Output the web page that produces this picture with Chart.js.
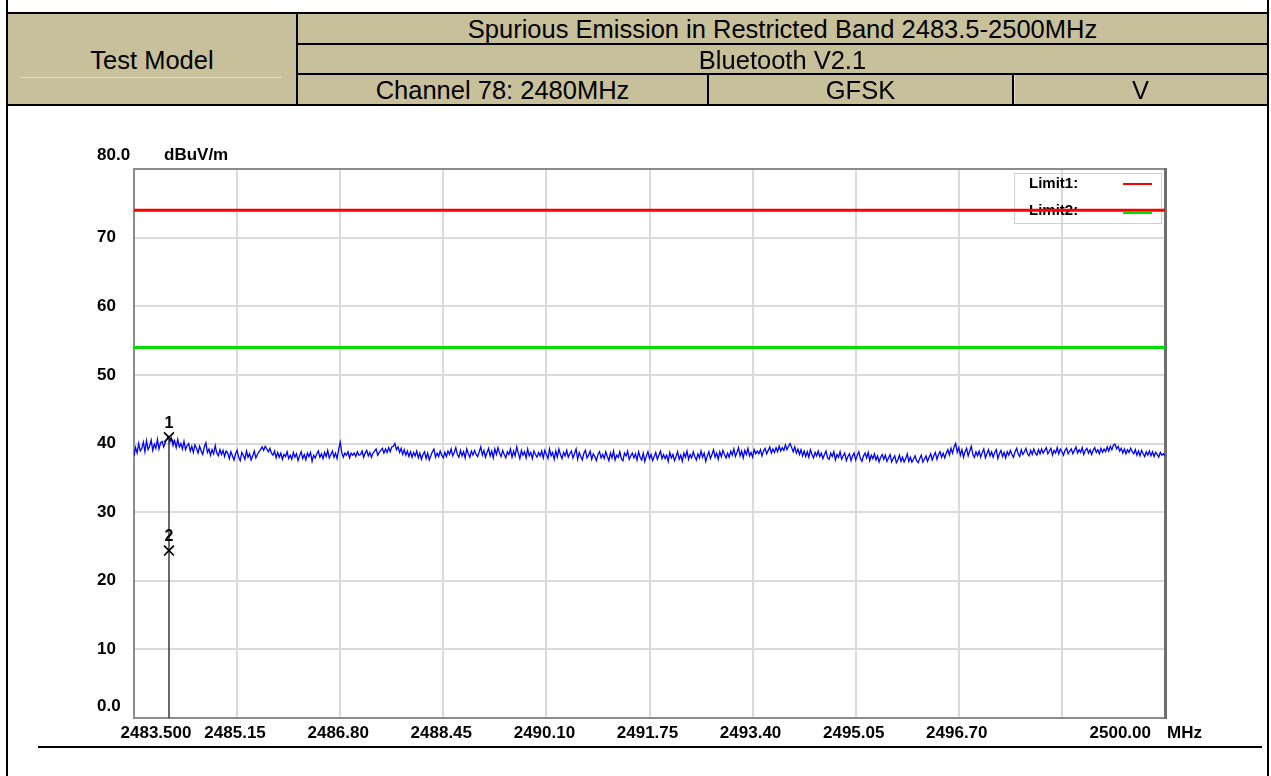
<!DOCTYPE html>
<html>
<head>
<meta charset="utf-8">
<title>Spurious Emission in Restricted Band 2483.5-2500MHz</title>
<script src="https://cdn.jsdelivr.net/npm/chart.js@4"></script>
<style>
  html, body { margin: 0; padding: 0; background: #fff; width: 1271px; height: 776px; overflow: hidden; }
  #plot { position: absolute; left: 0; top: 0; }
  .rule { position: absolute; background: #000; }
  .cell { position: absolute; background: #C8C09A; color: #000; font-family: "Liberation Sans", Arial, sans-serif;
          font-size: 25.5px; display: flex; align-items: center; justify-content: center; white-space: nowrap;
          padding-top: 2px; box-sizing: border-box; }
</style>
</head>
<body>
<canvas id="plot" width="1271" height="776"></canvas>

<!-- report header -->
<div class="cell" style="left:8px;top:14px;width:288px;height:90px;">Test Model</div>
<div class="cell" style="left:298px;top:14px;width:969px;height:29px;">Spurious Emission in Restricted Band 2483.5-2500MHz</div>
<div class="cell" style="left:298px;top:45px;width:969px;height:28px;">Bluetooth V2.1</div>
<div class="cell" style="left:298px;top:75px;width:409px;height:29px;">Channel 78: 2480MHz</div>
<div class="cell" style="left:709px;top:75px;width:303px;height:29px;">GFSK</div>
<div class="cell" style="left:1014px;top:75px;width:253px;height:29px;">V</div>
<div style="position:absolute;left:20px;top:77px;width:262px;height:1px;background:#e4ddc4;"></div>
<div style="position:absolute;left:1014px;top:75px;width:1px;height:29px;background:#e4ddc4;"></div>

<div class="rule" style="left:6px;top:0;width:2px;height:776px;"></div>
<div class="rule" style="left:1267px;top:0;width:2px;height:776px;"></div>
<div class="rule" style="left:6px;top:12px;width:1263px;height:2px;"></div>
<div class="rule" style="left:296px;top:43px;width:973px;height:2px;"></div>
<div class="rule" style="left:296px;top:73px;width:973px;height:2px;"></div>
<div class="rule" style="left:6px;top:104px;width:1263px;height:2px;"></div>
<div class="rule" style="left:296px;top:12px;width:2px;height:94px;"></div>
<div class="rule" style="left:707px;top:73px;width:2px;height:33px;"></div>
<div class="rule" style="left:1012px;top:73px;width:2px;height:33px;"></div>
<div class="rule" style="left:38px;top:746px;width:1224px;height:2px;"></div>

<script>
// Sweep settings of the receiver (MHz)
const sweepStartMHz = 2483.5;
const sweepStopMHz = 2500.0;

// Measured peak trace, dBuV/m, readings evenly spaced over the sweep
const traceLevels = [
  38.2, 39.4, 38.6, 40.0, 38.9, 39.3, 40.2, 38.8, 40.4, 39.1,
  39.6, 40.5, 39.0, 39.9, 39.3, 40.6, 39.2, 40.1, 40.3, 39.5,
  40.1, 40.7, 41.0, 40.2, 40.8, 39.7, 40.4, 39.4, 40.6, 39.5,
  40.0, 39.2, 40.3, 39.1, 39.7, 40.0, 38.9, 39.6, 38.7, 39.8,
  39.3, 38.6, 39.6, 38.9, 38.4, 39.5, 40.1, 38.7, 39.2, 38.3,
  39.1, 38.5, 39.7, 38.6, 38.2, 39.1, 38.4, 39.0, 38.1, 38.9,
  38.6, 37.8, 38.8, 38.2, 37.6, 38.5, 39.0, 38.0, 37.5, 38.7,
  38.3, 37.7, 38.9, 38.0, 38.5, 37.6, 38.2, 38.9, 37.9, 38.4,
  38.8, 39.1, 39.5, 39.0, 39.6, 39.2, 38.8, 39.3, 38.6, 38.3,
  38.9, 37.9, 38.7, 38.0, 38.6, 37.7, 38.4, 38.1, 38.8, 37.8,
  38.3, 37.7, 38.7, 38.0, 38.5, 37.5, 38.2, 38.8, 37.8, 38.4,
  37.6, 38.6, 38.1, 38.7, 37.4, 38.3, 37.9, 38.5, 38.9, 38.0,
  38.5, 37.8, 38.7, 38.1, 39.0, 37.9, 38.4, 38.9, 38.0, 38.6,
  37.8, 39.1, 40.2, 38.7, 38.0, 38.6, 38.3, 38.8, 37.9, 38.6,
  38.3, 38.6, 38.1, 38.8, 38.3, 38.4, 38.9, 38.0, 38.6, 39.0,
  38.2, 38.7, 38.0, 38.6, 38.9, 39.2, 38.3, 38.7, 39.0, 39.3,
  38.6, 39.2, 38.7, 39.4, 38.8, 39.5, 39.6, 40.0, 39.1, 39.5,
  38.7, 39.3, 38.4, 39.1, 38.3, 38.9, 38.1, 38.8, 38.0, 38.7,
  38.2, 38.9, 37.9, 38.6, 37.7, 38.4, 38.8, 37.8, 38.6, 37.6,
  38.2, 38.8, 39.2, 38.0, 38.6, 38.1, 38.9, 38.3, 37.9, 38.7,
  38.1, 38.9, 38.4, 39.2, 38.2, 38.7, 39.4, 38.4, 38.0, 39.0,
  38.2, 38.8, 37.9, 39.2, 38.5, 38.0, 38.9, 38.3, 39.0, 38.4,
  38.1, 38.8, 39.5, 38.3, 39.0, 38.0, 38.7, 39.3, 38.2, 38.9,
  37.9, 39.2, 38.4, 39.4, 38.6, 38.1, 39.0, 38.4, 37.9, 38.8,
  38.4, 39.2, 38.0, 38.9, 38.2, 39.5, 38.6, 37.8, 39.0, 38.3,
  38.8, 37.9, 39.2, 38.2, 38.7, 37.8, 38.9, 38.4, 38.0, 38.7,
  38.2, 38.9, 37.9, 39.0, 38.4, 37.8, 39.2, 38.2, 38.7, 37.7,
  38.9, 38.0, 39.2, 38.4, 37.8, 38.7, 38.2, 39.0, 38.0, 38.5,
  38.9, 37.9, 38.5, 39.2, 37.7, 38.7, 38.1, 37.6, 38.6, 39.0,
  37.9, 38.3, 38.9, 37.7, 38.5, 38.1, 37.5, 38.4, 38.8, 37.9,
  38.4, 37.8, 38.8, 38.1, 37.5, 38.6, 37.9, 38.9, 37.6, 38.3,
  38.0, 38.8, 37.8, 37.5, 38.6, 38.2, 38.9, 37.7, 38.2, 38.6,
  37.9, 38.5, 37.6, 38.8, 38.0, 37.6, 38.6, 37.4, 38.2, 38.8,
  37.8, 38.4, 37.5, 38.1, 38.7, 37.7, 38.3, 38.9, 37.8, 38.4,
  37.8, 38.3, 37.4, 38.7, 37.9, 38.4, 37.5, 38.1, 38.8, 37.7,
  38.3, 37.4, 38.6, 38.0, 38.9, 37.7, 38.4, 37.9, 38.8, 38.1,
  37.6, 38.5, 37.9, 38.9, 38.0, 38.6, 37.4, 38.2, 38.8, 37.8,
  38.4, 39.1, 38.0, 38.6, 37.7, 38.8, 38.1, 39.0, 38.4, 37.9,
  38.6, 38.0, 38.9, 38.3, 39.2, 38.1, 38.7, 39.4, 38.2, 38.9,
  37.9, 39.0, 38.4, 39.3, 38.2, 38.7, 38.0, 39.1, 38.5, 38.9,
  38.5, 39.1, 38.2, 38.9, 39.3, 38.5, 39.0, 39.5, 38.6, 39.2,
  38.7, 39.4, 38.8, 39.6, 38.9, 39.4, 39.0, 39.8, 39.1, 39.6,
  40.0, 39.4, 38.8, 39.5, 38.6, 39.2, 38.4, 39.1, 38.2, 38.9,
  38.1, 38.8, 38.0, 39.1, 38.4, 37.9, 38.7, 38.2, 38.9, 38.1,
  38.6, 37.8, 38.4, 38.9, 37.9, 37.7, 38.6, 38.1, 38.8, 37.6,
  38.4, 38.0, 38.8, 37.7, 38.2, 38.6, 37.5, 38.1, 38.5, 37.5,
  38.2, 38.6, 37.6, 38.3, 38.8, 37.8, 37.4, 38.2, 38.6, 37.9,
  38.7, 37.5, 38.3, 37.8, 38.5, 37.6, 38.2, 37.3, 38.0, 38.4,
  37.7, 38.3, 37.4, 37.9, 38.4, 37.3, 37.8, 38.2, 37.2, 37.6,
  38.3, 37.4, 38.0, 37.3, 37.8, 38.5, 37.4, 38.0, 37.3, 37.7,
  38.2, 37.5, 37.2, 37.8, 38.3, 37.3, 37.7, 38.2, 37.4, 38.0,
  38.5, 37.6, 38.2, 38.7, 37.7, 38.4, 38.8, 38.0, 38.6, 37.9,
  38.6, 39.1, 38.3, 39.3, 38.6, 39.5, 40.0, 38.7, 39.4, 38.3,
  39.1, 38.0, 38.8, 39.3, 38.2, 38.9, 39.6, 38.4, 38.0, 38.8,
  38.2, 38.9, 38.0, 38.7, 39.2, 37.9, 38.5, 39.1, 38.2, 38.8,
  38.0, 38.7, 39.1, 37.8, 38.5, 39.0, 38.1, 38.7, 37.9, 38.8,
  38.3, 39.0, 38.4, 38.0, 38.8, 39.3, 38.5, 38.1, 39.1, 38.4,
  38.8, 39.3, 38.5, 38.2, 39.0, 38.4, 39.2, 38.6, 38.3, 39.1,
  38.5, 39.2, 38.6, 39.0, 39.4, 38.5, 38.9, 39.3, 38.3, 39.0,
  38.6, 39.4, 38.5, 39.2, 38.8, 38.3, 39.0, 39.3, 38.5, 38.9,
  39.2, 38.5, 39.0, 39.5, 38.6, 39.1, 38.7, 39.4, 38.4, 39.0,
  39.3, 38.6, 39.1, 38.4, 39.0, 39.4, 38.7, 39.1, 38.5, 39.3,
  38.7, 39.2, 38.8, 39.5, 38.9, 39.6, 39.1, 39.8, 39.9, 39.2,
  39.6, 38.9, 39.3, 38.6, 39.2, 38.5, 39.1, 38.7, 39.3, 38.8,
  38.5, 39.1, 38.3, 38.9, 38.2, 39.0, 38.5, 38.1, 38.8, 38.3,
  38.9, 38.2, 38.8, 38.1, 38.7, 38.4, 38.0, 38.7, 38.3, 38.5,
  38.2
];

// Limit lines (dBuV/m)
const limitNames = ['Limit1:', 'Limit2:'];
const limitLevels = [74, 54];
const limitColors = ['#ff0000', '#00dd00'];

// Markers: 1 = peak reading, 2 = average reading
const markerLabels = ['1', '2'];
const markerFreqs = [2484.06, 2484.06];
const markerLevels = [40.9, 24.4];

// Axis ticks
const xTickValues = [2483.5, 2485.15, 2486.80, 2488.45, 2490.10, 2491.75, 2493.40, 2495.05, 2496.70, 2498.35, 2500.0];
const xTickLabels = ['2483.500', '2485.15', '2486.80', '2488.45', '2490.10', '2491.75', '2493.40', '2495.05', '2496.70', '', '2500.00'];
const yTickValues = [0, 10, 20, 30, 40, 50, 60, 70, 80];
const yTickLabels = ['0.0', '10', '20', '30', '40', '50', '60', '70', '80.0'];
const yUnit = 'dBuV/m';
const xUnit = 'MHz';

const labelFont = 'bold 17px "Liberation Sans", Arial, sans-serif';

const sweepStep = (sweepStopMHz - sweepStartMHz) / (traceLevels.length - 1);
const traceData = traceLevels.map((y, i) => ({ x: sweepStartMHz + i * sweepStep, y }));

// Frame, legend box and axis labels drawn around the plot area
const frameAndLabels = {
  id: 'frameAndLabels',
  beforeDatasetsDraw(chart) {
    const { ctx, chartArea: a } = chart;
    ctx.save();
    // plot frame
    ctx.strokeStyle = '#8c8c8c';
    ctx.lineWidth = 2;
    ctx.strokeRect(a.left, a.top, a.right - a.left, a.bottom - a.top);
    ctx.fillStyle = '#6e6e6e';
    ctx.fillRect(a.right - 1, a.top - 1, 3, a.bottom - a.top + 2);
    // legend box
    const lx = a.right - 151, ly = a.top + 4;
    ctx.strokeStyle = '#cfcfcf';
    ctx.lineWidth = 1;
    ctx.strokeRect(lx + 0.5, ly + 0.5, 147, 50);
    ctx.font = 'bold 15px "Liberation Sans", Arial, sans-serif';
    ctx.fillStyle = '#000';
    ctx.textBaseline = 'middle';
    ctx.textAlign = 'left';
    limitNames.forEach((name, i) => {
      const ty = ly + 11 + i * 27;
      ctx.fillText(name, lx + 15, ty);
      ctx.strokeStyle = limitColors[i];
      ctx.lineWidth = 2;
      ctx.beginPath();
      ctx.moveTo(lx + 109, ty + i * 2);
      ctx.lineTo(lx + 138, ty + i * 2);
      ctx.stroke();
    });
    ctx.restore();
  },
  afterDraw(chart) {
    const { ctx, chartArea: a, scales: { x, y } } = chart;
    ctx.save();
    ctx.font = labelFont;
    ctx.fillStyle = '#000';
    ctx.textBaseline = 'middle';
    // y tick labels
    ctx.textAlign = 'left';
    yTickValues.forEach((v, i) => {
      let py = y.getPixelForValue(v);
      if (i === 0) py -= 12;
      if (i === yTickValues.length - 1) py -= 14;
      ctx.fillText(yTickLabels[i], a.left - 37, py);
    });
    ctx.fillText(yUnit, a.left + 30, y.getPixelForValue(80) - 14);
    // x tick labels
    const ty = a.bottom + 15;
    xTickValues.forEach((v, i) => {
      const px = x.getPixelForValue(v);
      if (i === 0) { ctx.textAlign = 'center'; ctx.fillText(xTickLabels[i], px + 22, ty); }
      else if (i === xTickValues.length - 1) { ctx.textAlign = 'right'; ctx.fillText(xTickLabels[i], px - 14, ty); }
      else { ctx.textAlign = 'center'; ctx.fillText(xTickLabels[i], px - 2, ty); }
    });
    ctx.textAlign = 'left';
    ctx.fillText(xUnit, a.right + 2, ty);
    // marker numbers
    ctx.font = 'bold 16px "Liberation Sans", Arial, sans-serif';
    ctx.textAlign = 'center';
    markerLabels.forEach((lab, i) => {
      ctx.fillText(lab, x.getPixelForValue(markerFreqs[i]), y.getPixelForValue(markerLevels[i]) - 14);
    });
    ctx.restore();
  }
};

new Chart(document.getElementById('plot'), {
  type: 'line',
  data: {
    datasets: [
      {
        label: 'Peak',
        data: traceData,
        borderColor: '#0000ff',
        borderWidth: 1.3,
        pointRadius: 0,
        tension: 0,
        order: 2
      },
      ...limitLevels.map((lv, i) => ({
        label: limitNames[i],
        data: [{ x: sweepStartMHz, y: lv }, { x: sweepStopMHz, y: lv }],
        borderColor: limitColors[i],
        borderWidth: 3,
        pointRadius: 0,
        order: 1
      })),
      {
        label: 'Marker line',
        data: [{ x: markerFreqs[0], y: markerLevels[0] }, { x: markerFreqs[0], y: 0 }],
        borderColor: '#3a3a3a',
        borderWidth: 1.5,
        pointRadius: 0,
        order: 0
      },
      {
        label: 'Markers',
        data: markerFreqs.map((f, i) => ({ x: f, y: markerLevels[i] })),
        showLine: false,
        pointStyle: 'crossRot',
        pointRadius: 7,
        borderColor: '#000',
        borderWidth: 1.7,
        order: -1
      }
    ]
  },
  options: {
    responsive: false,
    animation: false,
    devicePixelRatio: 1,
    layout: { padding: { left: 134, right: 106, top: 169, bottom: 58 } },
    plugins: { legend: { display: false }, tooltip: { enabled: false } },
    scales: {
      x: {
        type: 'linear',
        min: sweepStartMHz,
        max: sweepStopMHz,
        afterBuildTicks(scale) { scale.ticks = xTickValues.map(v => ({ value: v })); },
        afterFit(scale) { scale.height = 0; },
        ticks: { display: false },
        grid: { color: '#dadada', lineWidth: 2, drawTicks: false },
        border: { display: false }
      },
      y: {
        type: 'linear',
        min: 0,
        max: 80,
        afterBuildTicks(scale) { scale.ticks = yTickValues.map(v => ({ value: v })); },
        afterFit(scale) { scale.width = 0; },
        ticks: { display: false },
        grid: { color: '#dadada', lineWidth: 2, drawTicks: false },
        border: { display: false }
      }
    }
  },
  plugins: [frameAndLabels]
});
</script>
</body>
</html>
